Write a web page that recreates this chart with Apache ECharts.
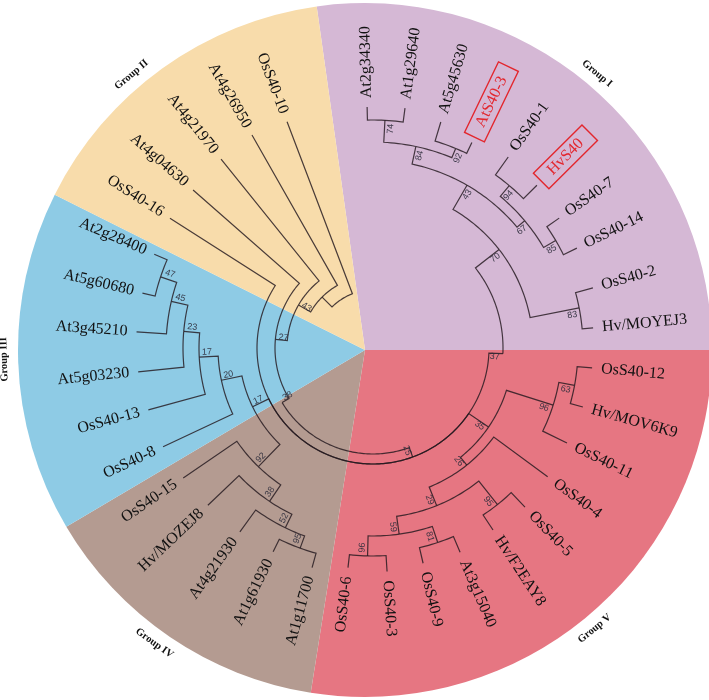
<!DOCTYPE html>
<html>
<head>
<meta charset="utf-8">
<script src="https://cdn.jsdelivr.net/npm/echarts@6/dist/echarts.min.js"></script>
<style>
  html, body { margin: 0; padding: 0; background: #fff; }
  #tree { width: 709px; height: 700px; }
</style>
</head>
<body>
<div id="tree"></div>
<script>
// sectors, in degrees of the circle, clockwise from the Group II / Group I border
var groupNames = ['Group I', 'Group V', 'Group IV', 'Group III', 'Group II'];
var groupSpan = [98, 99, 50.4, 57.2, 55.4];
var groupColors = ['#d5b8d5', '#e67682', '#b49b91', '#8ecbe5', '#f8dcab'];
var groupLabelAngle = [50, 309.5, 234.3, 181.5, 130.3];

// leaves: tip radius and angle of the branch (polar, degrees counter-clockwise from east)
var leafNames = [
  'At2g34340', 'At1g29640', 'At5g45630', 'AtS40-3', 'OsS40-1', 'HvS40', 'OsS40-7', 'OsS40-14', 'OsS40-2', 'Hv/MOYEJ3',
  'OsS40-12', 'Hv/MOV6K9', 'OsS40-11', 'OsS40-4', 'OsS40-5', 'Hv/F2EAY8', 'At3g15040', 'OsS40-9', 'OsS40-3', 'OsS40-6',
  'At1g11700', 'At1g61930', 'At4g21930', 'Hv/MOZEJ8', 'OsS40-15',
  'OsS40-8', 'OsS40-13', 'At5g03230', 'At3g45210', 'At5g60680', 'At2g28400',
  'OsS40-16', 'At4g04630', 'At4g21970', 'At4g26950', 'OsS40-10'
];
var leafParent = [
  'n74', 'n74', 'n92a', 'n92a', 'n94', 'n94', 'n85', 'n85', 'n83', 'n83',
  'n63', 'n63', 'n96a', 'n26', 'n95a', 'n95a', 'n81', 'n81', 'n96b', 'n96b',
  'n95b', 'n95b', 'n52', 'n38b', 'n92b',
  'n20', 'n17b', 'n23', 'n45', 'n47', 'n47',
  'n25', 'n27', 'n43b', 'n2', 'n1'
];
var leafRadius = [
  241, 242, 236, 228, 234, 231, 227, 227, 228, 221,
  220, 218, 216, 217, 220, 218, 222, 221, 224, 221,
  228, 227, 227, 228, 230,
  232, 233, 236, 237, 237, 238,
  241, 239.5, 242.5, 245, 242
];
var leafAngle = [
  91.4, 82.4, 73.3, 64.3, 54.7, 44.8, 34.9, 26.1, 15.3, 5.2,
  354.8, 344.3, 333.9, 323.6, 313.7, 303.4, 293.1, 283.1, 273.6, 263.5,
  254.5, 243.9, 234.1, 223.6, 214.4,
  205.2, 195.4, 185.8, 176.1, 166.6, 156.8,
  147.4, 138.7, 128.8, 119.6, 110.8
];
var boxedLeaves = ['AtS40-3', 'HvS40'];

// internal nodes
var nodeIds = [
  'n1', 'n2', 'n43b', 'n27', 'n38a', 'n25',
  'n17a', 'n20', 'n17b', 'n23', 'n45', 'n47',
  'n92b', 'n38b', 'n52', 'n95b',
  'n35', 'n96a', 'n63', 'n26', 'n29', 'n95a', 'n59', 'n81', 'n96b',
  'n37', 'n70', 'n43a', 'n84', 'n74', 'n92a', 'n67', 'n94', 'n85', 'n83'
];
var nodeParent = [
  null, 'n1', 'n2', 'n43b', 'n27', 'n38a',
  'n25', 'n17a', 'n20', 'n17b', 'n23', 'n45',
  'n17a', 'n92b', 'n38b', 'n52',
  'n25', 'n35', 'n96a', 'n35', 'n26', 'n29', 'n29', 'n59', 'n59',
  'n25', 'n37', 'n70', 'n43a', 'n84', 'n84', 'n43a', 'n67', 'n67', 'n70'
];
var nodeRadius = [
  58, 72, 86, 98, 106, 116,
  134, 155, 174, 190, 207, 224,
  165, 185, 200, 213,
  140, 189, 205, 150, 170, 200, 188, 205, 208,
  130, 160, 188, 206, 228, 216, 198, 212, 212, 210
];
var nodeAngle = [
  124, 135, 150, 175, 211, 290,
  206, 192, 183, 175, 167, 161.5,
  226, 236, 244, 250,
  325.6, 342.4, 349.5, 308.7, 292, 308.5, 278, 288.4, 268.5,
  357.5, 38, 60, 78, 87, 67.5, 40, 50, 30.5, 11
];
var nodeSupport = [
  null, null, 43, 27, 38, 25,
  17, 20, 17, 23, 45, 47,
  92, 38, 52, 95,
  35, 96, 63, 26, 29, 95, 59, 81, 96,
  37, 70, 43, 84, 74, 92, 67, 94, 85, 83
];

var lineColor = 'rgba(35,25,30,0.82)';
var red = '#e3262d';

function wrap(a) { return ((a % 360) + 360) % 360; }
function delta(from, to) { return ((to - from + 540) % 360) - 180; }
function isLeft(a) { return a > 92 && a < 268; }

var nodeIndex = {};
nodeIds.forEach(function (id, i) { nodeIndex[id] = i; });

// each branch: arc on the parent's radius, then the radial piece out to the child
var branches = [];
nodeIds.forEach(function (id, i) {
  if (nodeParent[i] === null) return;
  var j = nodeIndex[nodeParent[i]];
  branches.push([nodeRadius[j], nodeAngle[j], nodeRadius[i], nodeAngle[i]]);
});
leafNames.forEach(function (name, i) {
  var j = nodeIndex[leafParent[i]];
  branches.push([nodeRadius[j], nodeAngle[j], leafRadius[i], leafAngle[i]]);
});

var leafData = leafNames.map(function (n, i) { return [leafRadius[i], leafAngle[i]]; });
var supportData = [];
var supportText = [];
nodeIds.forEach(function (id, i) {
  if (nodeSupport[i] === null) return;
  supportData.push([nodeRadius[i], nodeAngle[i]]);
  supportText.push(String(nodeSupport[i]));
});
var groupLabelData = groupNames.map(function (n, i) { return [361, groupLabelAngle[i]]; });

var chart = echarts.init(document.getElementById('tree'));
var option = {
  animation: false,
  polar: [
    { center: [373, 348], radius: 350 },
    { center: [365, 350], radius: 370 }
  ],
  angleAxis: [
    { polarIndex: 0, type: 'value', min: 0, max: 360, startAngle: 0, clockwise: false, show: false },
    { polarIndex: 1, type: 'value', min: 0, max: 360, startAngle: 0, clockwise: false, show: false }
  ],
  radiusAxis: [
    { polarIndex: 0, type: 'value', min: 0, max: 350, show: false },
    { polarIndex: 1, type: 'value', min: 0, max: 370, show: false }
  ],
  series: [
    {
      type: 'pie',
      center: [365, 350],
      radius: [0, 347],
      startAngle: 98,
      clockwise: true,
      silent: true,
      z: 1,
      label: { show: false },
      labelLine: { show: false },
      itemStyle: { borderWidth: 0 },
      data: groupNames.map(function (n, i) {
        return { name: n, value: groupSpan[i], itemStyle: { color: groupColors[i] } };
      })
    },
    {
      type: 'custom',
      coordinateSystem: 'polar',
      polarIndex: 0,
      silent: true,
      z: 3,
      data: branches,
      renderItem: function (params, api) {
        var pr = api.value(0), pa = api.value(1), cr = api.value(2), ca = api.value(3);
        var d = delta(pa, ca);
        var n = Math.max(1, Math.ceil(Math.abs(d)));
        var pts = [];
        for (var k = 0; k <= n; k++) {
          pts.push(api.coord([pr, wrap(pa + d * k / n)]));
        }
        pts.push(api.coord([cr, ca]));
        return {
          type: 'polyline',
          shape: { points: pts },
          style: { stroke: lineColor, lineWidth: 1.2, fill: null }
        };
      }
    },
    {
      type: 'custom',
      coordinateSystem: 'polar',
      polarIndex: 0,
      silent: true,
      z: 4,
      data: leafData,
      renderItem: function (params, api) {
        var name = leafNames[params.dataIndex];
        var r = api.value(0), a = api.value(1);
        var left = isLeft(a);
        var boxed = boxedLeaves.indexOf(name) >= 0;
        var p = api.coord([r + (boxed ? 6 : 9), a]);
        var style = {
          text: name,
          fontFamily: 'Liberation Serif',
          fontSize: 16,
          fill: boxed ? red : '#111',
          align: left ? 'right' : 'left',
          verticalAlign: 'middle'
        };
        if (boxed) {
          style.borderColor = red;
          style.borderWidth = 1.4;
          style.padding = [3, 12];
        }
        return {
          type: 'text',
          x: p[0], y: p[1],
          rotation: (left ? a - 180 : a) * Math.PI / 180,
          style: style
        };
      }
    },
    {
      type: 'custom',
      coordinateSystem: 'polar',
      polarIndex: 0,
      silent: true,
      z: 4,
      data: supportData,
      renderItem: function (params, api) {
        var r = api.value(0), a = api.value(1);
        var la = wrap(a - 1.6);
        var left = isLeft(la);
        var p = api.coord([r - 8, la]);
        return {
          type: 'text',
          x: p[0], y: p[1],
          rotation: (left ? la - 180 : la) * Math.PI / 180,
          style: {
            text: supportText[params.dataIndex],
            fontFamily: 'Liberation Sans',
            fontSize: 9,
            fill: 'rgba(45,45,60,0.9)',
            align: 'center',
            verticalAlign: 'middle'
          }
        };
      }
    },
    {
      type: 'custom',
      coordinateSystem: 'polar',
      polarIndex: 1,
      silent: true,
      z: 4,
      data: groupLabelData,
      renderItem: function (params, api) {
        var r = api.value(0), a = api.value(1);
        var p = api.coord([r, a]);
        var rot = a <= 185 ? a - 90 : a + 90;
        return {
          type: 'text',
          x: p[0], y: p[1],
          rotation: rot * Math.PI / 180,
          style: {
            text: groupNames[params.dataIndex],
            fontFamily: 'Liberation Serif',
            fontWeight: 'bold',
            fontSize: 10.5,
            fill: '#111',
            align: 'center',
            verticalAlign: 'middle'
          }
        };
      }
    }
  ]
};
chart.setOption(option);
</script>
</body>
</html>
